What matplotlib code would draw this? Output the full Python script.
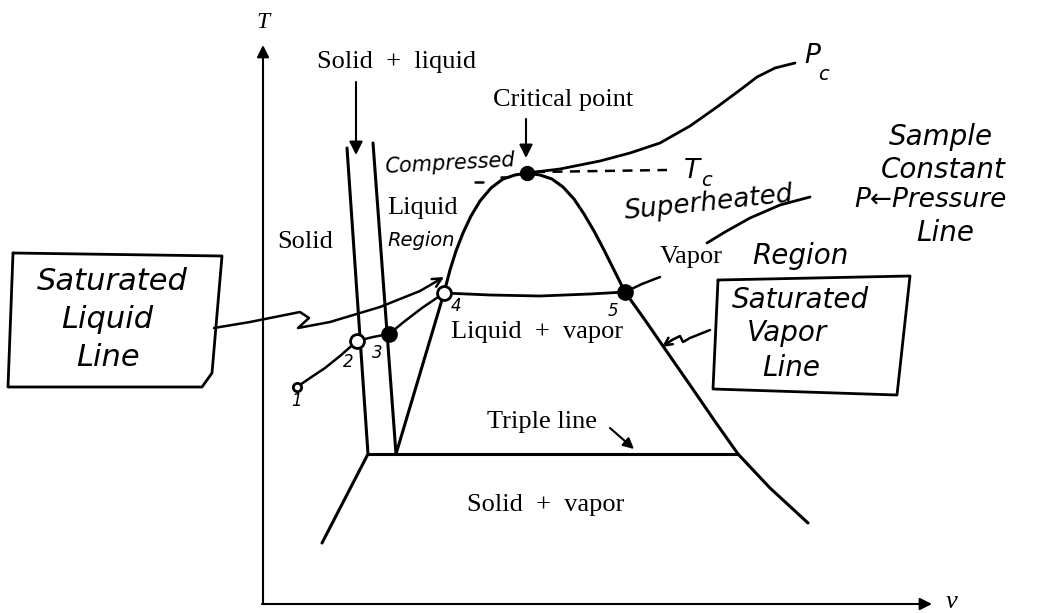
import matplotlib.pyplot as plt

# picture coordinates: x to the right, y downwards (pixels of the 1037x613 sheet)
axis_origin = (263, 604)
t_axis_top = 45
v_axis_end = 932

dome_left = [(444, 293), (450, 270), (456, 251), (463, 233), (471, 216),
             (480, 201), (491, 188), (503, 179), (515, 175), (527, 173)]
dome_right = [(527, 173), (540, 175), (552, 179), (563, 187), (574, 199),
              (584, 214), (594, 231), (604, 250), (614, 270), (625, 292),
              (645, 320), (665, 349), (690, 385), (714, 420), (738, 454),
              (770, 488), (808, 523)]
sat_liquid_low = [(444, 293), (396, 454)]
triple_line = [(368, 454), (738, 454)]
solid_left = [(347, 148), (368, 454), (322, 543)]
solid_right = [(373, 143), (396, 454)]
quality_line = [(444, 293), (490, 295), (540, 296), (590, 294), (625, 292)]
pc_line = [(527, 173), (560, 169), (600, 161), (630, 153), (660, 143),
           (690, 126), (717, 107), (740, 90), (757, 77), (775, 68), (795, 63)]
tc_dash = [(535, 172), (667, 170)]
tc_dash_left = [[(475, 182), (483, 182)], [(501, 177), (508, 177)]]
process = [(297, 387), (310, 378), (325, 368), (340, 356), (357, 341),
           (373, 337), (389, 334), (405, 321), (422, 308), (444, 293)]
state_pts = {"1": (297, 387), "2": (357, 341), "3": (389, 334),
             "4": (444, 293), "5": (625, 292)}
state_lbl = {"1": (296, 401), "2": (348, 362), "3": (377, 353),
             "4": (456, 306), "5": (613, 311)}
critical = (527, 173)

liq_box = [(13, 253), (222, 256), (212, 373), (202, 387), (8, 387), (13, 253)]
liq_link = [(214, 328), (250, 322), (300, 312), (309, 318), (298, 328),
            (330, 322), (380, 307), (420, 291), (444, 277)]
vap_box = [(718, 280), (910, 276), (897, 395), (713, 389), (718, 280)]
vap_link = [(710, 330), (690, 338), (683, 342), (680, 336), (672, 340), (662, 347)]
vapor_tick = [(625, 292), (642, 284), (660, 277)]
superheat_stroke = [(707, 243), (725, 232), (750, 218), (780, 205), (810, 197)]

fig = plt.figure(figsize=(10.37, 6.13), dpi=100)
ax = fig.add_axes([0, 0, 1, 1])
ax.set_xlim(0, 1037)
ax.set_ylim(613, 0)
ax.axis("off")


def line(pts, lw=2.2, **kw):
    xs, ys = zip(*pts)
    ax.plot(xs, ys, color="black", lw=lw, solid_capstyle="round",
            solid_joinstyle="round", **kw)


def arrow(p0, p1, style="-|>", lw=1.5, scale=20):
    ax.annotate("", xy=p1, xytext=p0,
                arrowprops=dict(arrowstyle=style, lw=lw, color="black",
                                mutation_scale=scale, shrinkA=0, shrinkB=0))


def serif(x, y, s, size=19, **kw):
    ax.text(x, y, s, fontsize=size, family="Liberation Serif",
            ha="center", va="center", **kw)


def hand(x, y, s, size=19, rot=0):
    ax.text(x, y, s, fontsize=size, family="DejaVu Sans", style="oblique",
            rotation=rot, ha="center", va="center", rotation_mode="anchor")


# axes
arrow(axis_origin, (axis_origin[0], t_axis_top), lw=1.5, scale=18)
arrow((axis_origin[0] - 1, axis_origin[1]), (v_axis_end, axis_origin[1]), lw=1.5, scale=18)
serif(263, 22, "T", size=17, style="italic")
serif(952, 602, "v", size=19, style="italic")

# phase boundaries
line(dome_left)
line(dome_right)
line(sat_liquid_low)
line(triple_line)
line(solid_left)
line(solid_right)
line(quality_line, lw=2)
line(pc_line, lw=2)
line(tc_dash, lw=1.8, linestyle=(0, (4, 3)))
for seg in tc_dash_left:
    line(seg, lw=1.8)
line(process, lw=1.8)

ax.plot(*critical, "o", color="black", ms=10)
for k, (x, y) in state_pts.items():
    filled = k in ("3", "5")
    ax.plot(x, y, "o", ms=6 if k == "1" else 10, mew=2,
            mfc="black" if filled else "white", mec="black")
for k, (x, y) in state_lbl.items():
    hand(x, y, k, size=12)

# printed labels
serif(397, 62, "Solid  +  liquid")
arrow((356, 82), (356, 155))
serif(563, 100, "Critical point")
arrow((526, 119), (526, 158))
serif(423, 208, "Liquid")
serif(305, 242, "Solid")
serif(691, 257, "Vapor")
serif(537, 332, "Liquid  +  vapor")
serif(542, 422, "Triple line")
arrow((610, 428), (634, 449), scale=16)
serif(546, 505, "Solid  +  vapor")

# handwritten notes
hand(450, 164, "Compressed", size=15, rot=3)
hand(421, 240, "Region", size=14)
hand(800, 256, "Region", size=20)
hand(692, 171, "T", size=19)
hand(706, 181, "c", size=14)
hand(812, 56, "P", size=19)
hand(823, 75, "c", size=14)
hand(709, 203, "Superheated", size=19, rot=6)
line(superheat_stroke, lw=2)
hand(941, 137, "Sample", size=20)
hand(943, 170, "Constant", size=20)
hand(930, 200, "P\u2190Pressure", size=19)
hand(945, 233, "Line", size=20)

line(liq_box, lw=2)
hand(112, 282, "Saturated", size=22)
hand(107, 320, "Liquid", size=22)
hand(108, 358, "Line", size=22)
line(liq_link[:-1], lw=1.8)
arrow(liq_link[-2], liq_link[-1], style="->", lw=1.8, scale=16)

line(vap_box, lw=2)
hand(800, 300, "Saturated", size=20)
hand(787, 333, "Vapor", size=20)
hand(791, 368, "Line", size=20)
line(vap_link[:-1], lw=1.8)
arrow(vap_link[-2], vap_link[-1], style="->", lw=1.8, scale=14)
line(vapor_tick, lw=1.8)

fig.savefig("out.png", dpi=100, facecolor="white")
